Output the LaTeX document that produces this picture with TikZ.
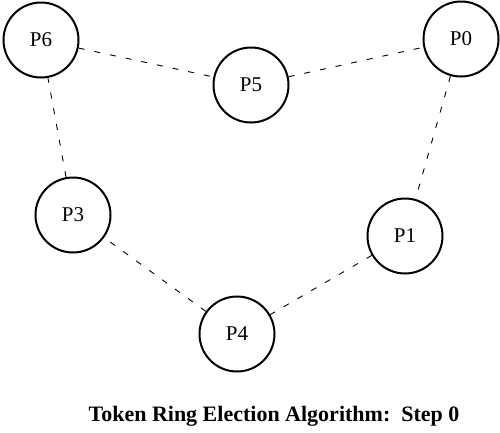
\documentclass[tikz,border=0pt]{standalone}
\usepackage{fontspec}
\setmainfont{Liberation Serif}
\usepackage{tikz}

\begin{document}
\begin{tikzpicture}[x=1pt, y=-1pt,
    proc/.style={draw, circle, line width=2pt, minimum size=75pt, inner sep=0pt, font=\fontsize{21}{21}\selectfont},
    ring/.style={dash pattern=on 6pt off 10pt, line width=0.9pt}]
          \useasboundingbox (0,0) rectangle (500,432);
          \node[proc] (p6) at (41,40) {P6};
          \node[proc] (p5) at (251,85) {P5};
          \node[proc] (p0) at (461,39) {P0};
          \node[proc] (p3) at (73,215) {P3};
          \node[proc] (p1) at (405,236) {P1};
          \node[proc] (p4) at (237,334) {P4};
          \draw[ring] (p6) -- (p5);
          \draw[ring] (p5) -- (p0);
          \draw[ring] (p0) -- (p1);
          \draw[ring] (p1) -- (p4);
          \draw[ring] (p4) -- (p3);
          \draw[ring] (p3) -- (p6);
          \node[font=\bfseries\fontsize{22}{22}\selectfont] (title) at (274,416) {Token Ring Election Algorithm:\ \ Step 0};
        \end{tikzpicture}
\end{document}
